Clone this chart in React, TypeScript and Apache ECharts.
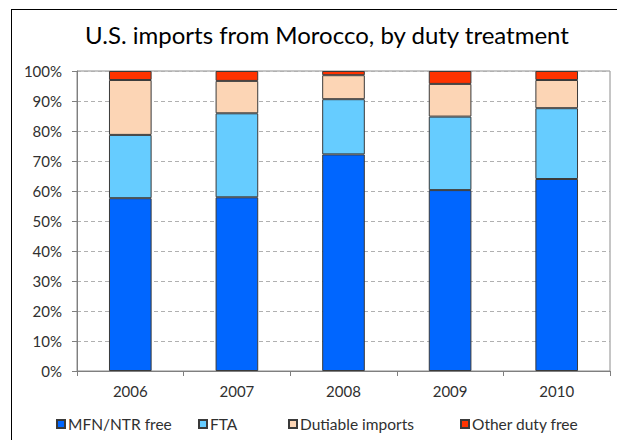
import React, { useEffect, useRef } from "react";
import * as echarts from "echarts";

const years = ["2006", "2007", "2008", "2009", "2010"];
const mfnFree = [57.6, 57.9, 72.2, 60.3, 64.0];
const fta = [21.1, 28.0, 18.4, 24.5, 23.6];
const dutiable = [18.3, 10.8, 8.0, 10.9, 9.4];
const otherFree = [3.0, 3.3, 1.4, 4.3, 3.0];
const seriesNames = ["MFN/NTR free", "FTA", "Dutiable imports", "Other duty free"];
const seriesColors = ["#0066ff", "#66ccff", "#fcd5b5", "#ff3300"];
const legendLefts = [57, 199, 289, 461];

const FONT = "Lato, 'Open Sans', sans-serif";

export default function App() {
  const ref = useRef<HTMLDivElement>(null);
  useEffect(() => {
    if (!ref.current) return;
    const chart = echarts.init(ref.current, undefined, { renderer: "svg" });
    const values = [mfnFree, fta, dutiable, otherFree];
    chart.setOption({
      animation: false,
      backgroundColor: "#ffffff",
      textStyle: { fontFamily: FONT },
      title: {
        text: "U.S. imports from Morocco, by duty treatment",
        left: 322,
        textAlign: "center",
        top: 17,
        textStyle: { fontFamily: FONT, fontSize: 24, fontWeight: "normal", color: "#000000" },
      },
      legend: seriesNames.map((n, i) => ({
        data: [n],
        left: legendLefts[i] - 1,
        top: 416,
        itemWidth: 8,
        itemHeight: 8,
        itemGap: 3,
        icon: "rect",
        padding: 0,
        textStyle: { fontFamily: FONT, fontSize: 15.5, color: "#303030", padding: [0, 0, 0, -2] },
      })),
      grid: {
        left: 77,
        right: 12,
        top: 71,
        bottom: 69,
        show: true,
        borderColor: "#8c8c8c",
        borderWidth: 1,
      },
      xAxis: {
        type: "category",
        data: years,
        axisLine: { lineStyle: { color: "#7f7f7f", width: 1 } },
        axisTick: { show: true, length: 5, lineStyle: { color: "#7f7f7f" } },
        axisLabel: { fontFamily: FONT, fontSize: 15, color: "#303030", margin: 12 },
      },
      yAxis: {
        type: "value",
        min: 0,
        max: 100,
        interval: 10,
        axisLine: { show: true, lineStyle: { color: "#7f7f7f", width: 1 } },
        axisTick: { show: true, length: 5, lineStyle: { color: "#7f7f7f" } },
        axisLabel: {
          fontFamily: FONT,
          fontSize: 15,
          color: "#303030",
          margin: 15,
          formatter: (v: number) => v + "%",
        },
        splitLine: { lineStyle: { color: "#b0b0b0", type: [4, 3], width: 1 } },
      },
      series: seriesNames.map((n, i) => ({
        name: n,
        type: "bar",
        stack: "total",
        barWidth: "40%",
        data: values[i],
        itemStyle: { color: seriesColors[i], borderColor: "#3a3a3a", borderWidth: 1 },
      })),
      graphic: [
        { type: "line", shape: { x1: 11, y1: 9.5, x2: 617, y2: 9.5 }, style: { stroke: "#000", lineWidth: 1 } },
        { type: "line", shape: { x1: 11.5, y1: 9, x2: 11.5, y2: 440 }, style: { stroke: "#000", lineWidth: 1 } },
      ],
    });
    return () => chart.dispose();
  }, []);
  return (
    <div
      ref={ref}
      style={{ position: "fixed", left: 0, top: 0, width: 622, height: 440 }}
    />
  );
}
